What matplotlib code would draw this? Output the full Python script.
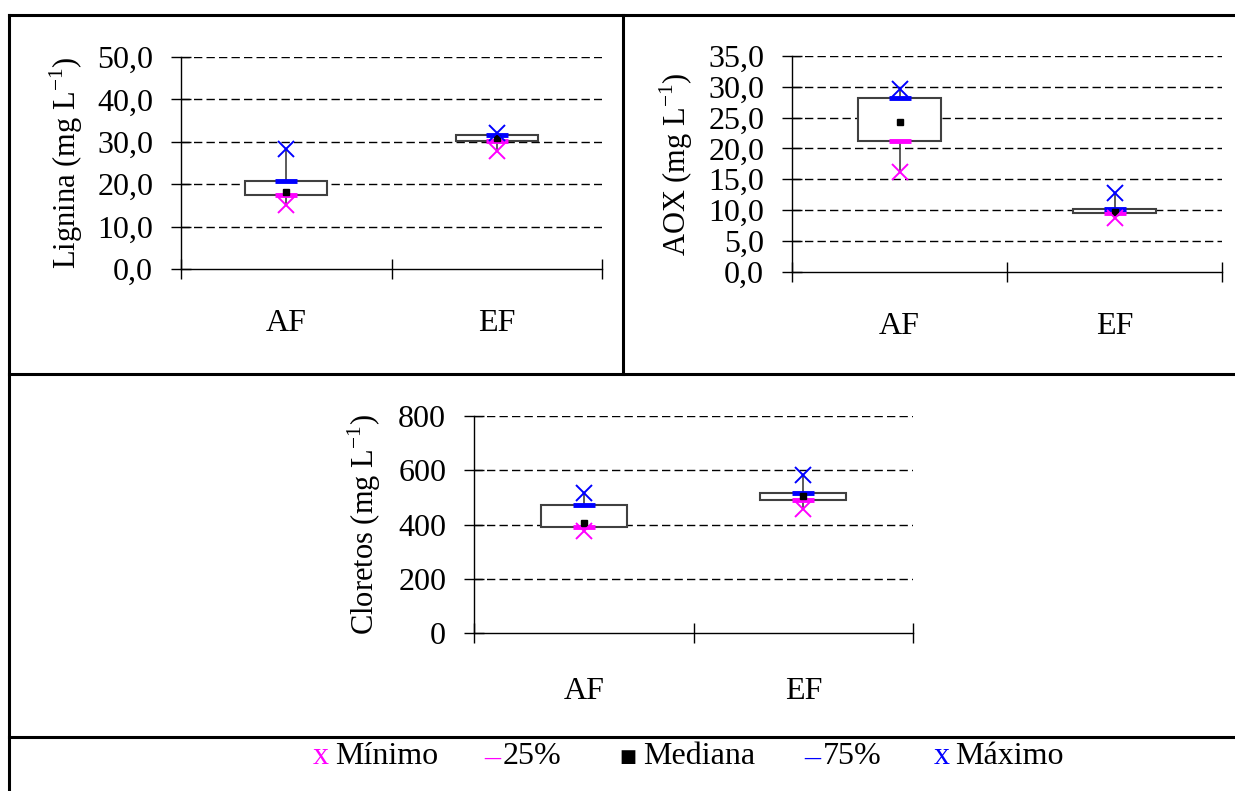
import numpy as np
import matplotlib
matplotlib.use("Agg")
import matplotlib.pyplot as plt
from matplotlib.ticker import FuncFormatter, FixedLocator

plt.rcParams['font.family'] = ['Liberation Serif', 'DejaVu Serif']
plt.rcParams['mathtext.fontset'] = 'custom'
plt.rcParams['mathtext.rm'] = 'Liberation Serif'

## Data
categories = ['AF', 'EF']

lignina_min = [15.1, 27.8]
lignina_q1 = [17.4, 30.1]
lignina_med = [18.2, 30.8]
lignina_q3 = [20.8, 31.6]
lignina_max = [28.3, 32.0]

aox_min = [16.1, 8.7]
aox_q1 = [21.2, 9.5]
aox_med = [24.3, 9.7]
aox_q3 = [28.2, 10.2]
aox_max = [29.6, 12.7]

clor_min = [377, 458]
clor_q1 = [390, 489]
clor_med = [407, 505]
clor_q3 = [473, 516]
clor_max = [515, 583]

legend_labels = ['Mínimo', '25%', 'Mediana', '75%', 'Máximo']

FS = 23
W, H = 1235, 791
fig = plt.figure(figsize=(W / 100, H / 100), dpi=100)

# background axes in pixel coordinates for the table lines and legend
bg = fig.add_axes([0, 0, 1, 1])
bg.set_xlim(0, W)
bg.set_ylim(H, 0)
bg.axis('off')
lw_b = 2.2
bg.plot([9, W], [15, 15], color='k', lw=lw_b)
bg.plot([9, 9], [15, H], color='k', lw=lw_b)
bg.plot([623, 623], [15, 374], color='k', lw=lw_b)
bg.plot([9, W], [374, 374], color='k', lw=lw_b)
bg.plot([9, W], [737, 737], color='k', lw=lw_b)


def px_axes(x0, x1, ytop, ybot):
    return fig.add_axes([x0 / W, (H - ybot) / H, (x1 - x0) / W, (ybot - ytop) / H])


def comma_fmt(dec):
    def f(v, pos):
        return f"{v:.{dec}f}".replace('.', ',')
    return FuncFormatter(f)


def draw_panel(ax, mn, q1, med, q3, mx, ymax, ystep, dec, ylabel, labx, xlabpad):
    x = np.arange(1, len(categories) + 1)
    ax.set_xlim(0.5, len(categories) + 0.5)
    ax.set_ylim(0, ymax)
    yt = np.arange(0, ymax + ystep / 2, ystep)
    ax.set_yticks(yt)
    ax.yaxis.set_major_formatter(comma_fmt(dec))
    for v in yt[1:]:
        ax.axhline(v, color='k', lw=1, ls=(0, (6, 3)), zorder=0)
    ax.vlines(x, mn, mx, color='#404040', lw=1.2, zorder=1)
    ax.bar(x, np.array(q3) - np.array(q1), bottom=q1, width=0.39,
           facecolor='white', edgecolor='#404040', lw=1.5, zorder=2)
    ax.plot(x, q1, ls='none', marker='_', ms=16, mew=3.5, color='#FF00FF', zorder=3)
    ax.plot(x, q3, ls='none', marker='_', ms=16, mew=3.5, color='#0000FF', zorder=3)
    ax.plot(x, med, ls='none', marker='s', ms=5, color='k', zorder=4)
    ax.plot(x, mn, ls='none', marker='x', ms=12, mew=1.4, color='#FF00FF', zorder=4)
    ax.plot(x, mx, ls='none', marker='x', ms=12, mew=1.4, color='#0000FF', zorder=4)

    ax.xaxis.set_major_locator(FixedLocator(np.arange(0.5, len(categories) + 1, 1)))
    ax.xaxis.set_major_formatter(FuncFormatter(lambda v, p: ''))
    ax.xaxis.set_minor_locator(FixedLocator(x))
    ax.set_xticklabels(categories, minor=True)
    ax.tick_params(axis='x', which='major', direction='inout', length=15, width=1)
    ax.tick_params(axis='x', which='minor', length=0, pad=xlabpad, labelsize=FS)
    ax.tick_params(axis='y', direction='inout', length=14, width=1, pad=13, labelsize=FS)
    for s in ['top', 'right']:
        ax.spines[s].set_visible(False)
    for s in ['left', 'bottom']:
        ax.spines[s].set_linewidth(1)
    ax.set_ylabel(ylabel, fontsize=22, va='center')
    ax.yaxis.set_label_coords(labx, 0.5)


ax1 = px_axes(181, 602, 57, 269)
draw_panel(ax1, lignina_min, lignina_q1, lignina_med, lignina_q3, lignina_max,
           50, 10, 1, r'Lignina (mg L$^{\mathregular{-1}}$)', -0.272, 29)

ax2 = px_axes(792, 1222, 56, 271.7)
draw_panel(ax2, aox_min, aox_q1, aox_med, aox_q3, aox_max,
           35, 5, 1, r'AOX (mg L$^{\mathregular{-1}}$)', -0.27, 29)

ax3 = px_axes(474, 913, 416.3, 632.7)
draw_panel(ax3, clor_min, clor_q1, clor_med, clor_q3, clor_max,
           800, 200, 0, r'Cloretos (mg L$^{\mathregular{-1}}$)', -0.25, 32)

# legend row
ly = 757
bg.text(321, ly, 'x', color='#FF00FF', fontsize=FS, ha='center', va='center')
bg.text(335, ly, legend_labels[0], fontsize=FS, ha='left', va='center')
bg.text(492, ly + 1, '–', color='#FF00FF', fontsize=FS, ha='center', va='center')
bg.text(503, ly, legend_labels[1], fontsize=FS, ha='left', va='center')
bg.text(628, ly, '■', color='k', fontsize=13, ha='center', va='center',
        family=['DejaVu Sans'])
bg.text(643, ly, legend_labels[2], fontsize=FS, ha='left', va='center')
bg.text(812, ly + 1, '–', color='#0000FF', fontsize=FS, ha='center', va='center')
bg.text(823, ly, legend_labels[3], fontsize=FS, ha='left', va='center')
bg.text(942, ly, 'x', color='#0000FF', fontsize=FS, ha='center', va='center')
bg.text(955, ly, legend_labels[4], fontsize=FS, ha='left', va='center')

fig.savefig('out.png', dpi=100)
